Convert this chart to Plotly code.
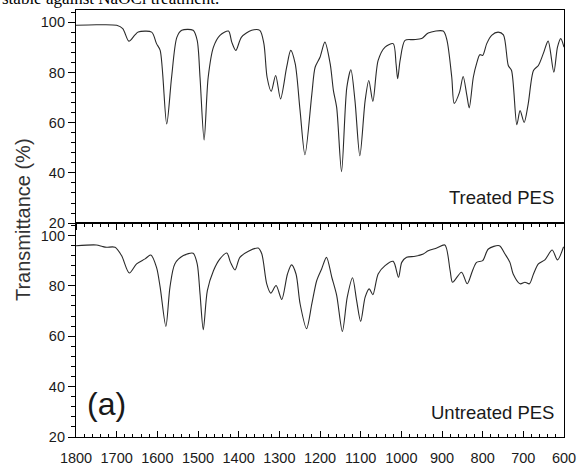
import plotly.graph_objects as go
from plotly.subplots import make_subplots

# Treated PES spectrum (wavenumber cm-1, transmittance %)
treated_wn = [1800, 1750, 1700, 1685, 1670, 1655, 1647, 1614, 1602, 1593, 1577, 1565, 1552, 1540,
              1512, 1502, 1495, 1485, 1475, 1462, 1446, 1425, 1417, 1407, 1393, 1368, 1348, 1338,
              1330, 1320, 1309, 1297, 1282, 1272, 1261, 1249, 1237, 1220, 1212, 1200, 1188, 1175,
              1167, 1159, 1147, 1134, 1124, 1114, 1102, 1089, 1080, 1070, 1057, 1040, 1020, 1013,
              1009, 1003, 991, 971, 950, 934, 897, 888, 876, 870, 857, 848, 839, 833, 823, 815,
              807, 800, 790, 778, 762, 749, 737, 729, 716, 708, 698, 688, 675, 663, 651, 639,
              625, 616, 608, 600]
treated_t = [98.8, 99.0, 98.8, 97.5, 92.5, 95.0, 96.1, 96.1, 91.5, 88.8, 59.5, 78.0, 94.0, 96.8,
             96.8, 92.8, 78.0, 53.1, 78.0, 90.1, 94.8, 96.5, 92.1, 88.8, 94.1, 96.8, 96.8, 91.5,
             78.0, 72.5, 78.8, 69.5, 82.1, 88.8, 83.5, 64.8, 47.2, 71.5, 82.1, 86.1, 92.1, 83.5,
             72.8, 66.1, 40.5, 74.1, 81.1, 68.8, 46.8, 68.8, 76.8, 68.5, 84.8, 90.1, 91.5, 83.5,
             77.5, 84.8, 92.8, 93.1, 93.5, 95.7, 96.5, 93.0, 78.1, 67.7, 72.1, 78.4, 71.0, 65.9,
             78.1, 83.5, 87.1, 86.8, 91.5, 94.8, 96.1, 95.0, 82.8, 80.8, 59.2, 64.8, 60.1, 67.5,
             80.8, 82.8, 87.5, 92.5, 80.1, 90.1, 93.5, 90.1]

# Untreated PES spectrum
untreated_wn = [1800, 1750, 1735, 1725, 1704, 1688, 1669, 1651, 1630, 1616, 1602, 1593, 1579, 1569,
                1557, 1536, 1512, 1502, 1495, 1487, 1477, 1462, 1446, 1429, 1420, 1409, 1397, 1376,
                1352, 1343, 1331, 1321, 1308, 1294, 1280, 1270, 1259, 1249, 1233, 1220, 1208, 1196,
                1184, 1171, 1159, 1145, 1133, 1120, 1110, 1100, 1089, 1079, 1070, 1057, 1040, 1020,
                1007, 999, 987, 966, 946, 934, 913, 893, 880, 874, 852, 838, 825, 815, 800, 786,
                759, 745, 733, 725, 708, 696, 685, 675, 663, 647, 629, 616, 601]
untreated_t = [95.9, 96.2, 95.6, 95.3, 95.3, 92.0, 85.1, 88.7, 90.7, 92.2, 87.3, 79.4, 63.9, 79.4,
               88.7, 92.0, 92.9, 88.7, 76.8, 62.6, 78.1, 86.0, 90.7, 93.0, 89.3, 86.3, 91.3, 93.7,
               95.0, 92.6, 80.8, 77.1, 80.1, 74.6, 84.7, 88.3, 84.7, 72.9, 63.0, 72.9, 82.1, 86.7,
               91.3, 83.4, 76.2, 61.9, 75.5, 83.2, 74.2, 65.9, 75.5, 78.8, 76.5, 84.7, 88.0, 89.7,
               83.4, 89.3, 91.3, 91.7, 92.6, 93.9, 95.0, 96.2, 86.0, 81.4, 85.4, 80.8, 86.0, 89.3,
               90.0, 94.6, 95.9, 92.6, 89.3, 84.7, 80.8, 81.4, 80.8, 84.7, 88.7, 90.3, 94.2, 90.3,
               95.5]

y_ticks = [20, 40, 60, 80, 100]
x_ticks = list(range(600, 1801, 100))

fig = make_subplots(rows=2, cols=1, shared_xaxes=True, vertical_spacing=0,
                    row_heights=[0.499, 0.501])

line_style = dict(color="#2a2a2a", width=1.1, shape="spline", smoothing=0.8)
fig.add_trace(go.Scatter(x=treated_wn, y=treated_t, mode="lines", line=line_style,
                         showlegend=False), row=1, col=1)
fig.add_trace(go.Scatter(x=untreated_wn, y=untreated_t, mode="lines", line=line_style,
                         showlegend=False), row=2, col=1)

tick_font = dict(family="Liberation Sans, Arial, sans-serif", size=14.5, color="#1a1a1a")
axis_common = dict(showline=True, linecolor="black", linewidth=1.2, mirror=True,
                   showgrid=False, zeroline=False, automargin=False)

fig.update_xaxes(range=[1800, 600], tickvals=x_ticks, **axis_common)
fig.update_xaxes(row=1, col=1, ticks="outside", ticklen=6, tickcolor="black",
                 showticklabels=False,
                 minor=dict(dtick=20, ticks="outside", ticklen=3, tickcolor="black"))
fig.update_xaxes(row=2, col=1, ticks="inside", ticklen=6, tickcolor="black",
                 tickfont=tick_font, ticklabelstandoff=7,
                 minor=dict(dtick=20, ticks="inside", ticklen=3, tickcolor="black"))
fig.update_yaxes(range=[20, 104.9], tickvals=y_ticks, ticks="outside", ticklen=7,
                 tickcolor="black", tickfont=tick_font,
                 minor=dict(dtick=4, ticks="outside", ticklen=4, tickcolor="black"),
                 **axis_common)

annotations = [
    dict(text="Treated PES", x=0.9836, y=0.562, xref="paper", yref="paper",
         xanchor="right", yanchor="middle", showarrow=False,
         font=dict(family="Liberation Sans, Arial, sans-serif", size=18.5, color="#1a1a1a")),
    dict(text="Untreated PES", x=0.9836, y=0.0574, xref="paper", yref="paper",
         xanchor="right", yanchor="middle", showarrow=False,
         font=dict(family="Liberation Sans, Arial, sans-serif", size=18.5, color="#1a1a1a")),
    dict(text="(a)", x=0.0635, y=0.0773, xref="paper", yref="paper",
         xanchor="center", yanchor="middle", showarrow=False,
         font=dict(family="Liberation Sans, Arial, sans-serif", size=32, color="#1a1a1a")),
    dict(text="Transmittance (%)", x=-0.1086, y=0.508, xref="paper", yref="paper",
         xanchor="center", yanchor="middle", showarrow=False, textangle=-90,
         font=dict(family="Liberation Sans, Arial, sans-serif", size=20, color="#333333")),
    dict(text="stable against NaOCl treatment.", x=-0.1557, y=1.028, xref="paper", yref="paper",
         xanchor="left", yanchor="middle", showarrow=False,
         font=dict(family="Liberation Serif, Times New Roman, serif", size=17, color="black")),
]

fig.update_layout(width=579, height=468, margin=dict(l=76, r=15, t=10, b=31),
                  paper_bgcolor="white", plot_bgcolor="white", annotations=annotations)

fig.write_html("out.html")
